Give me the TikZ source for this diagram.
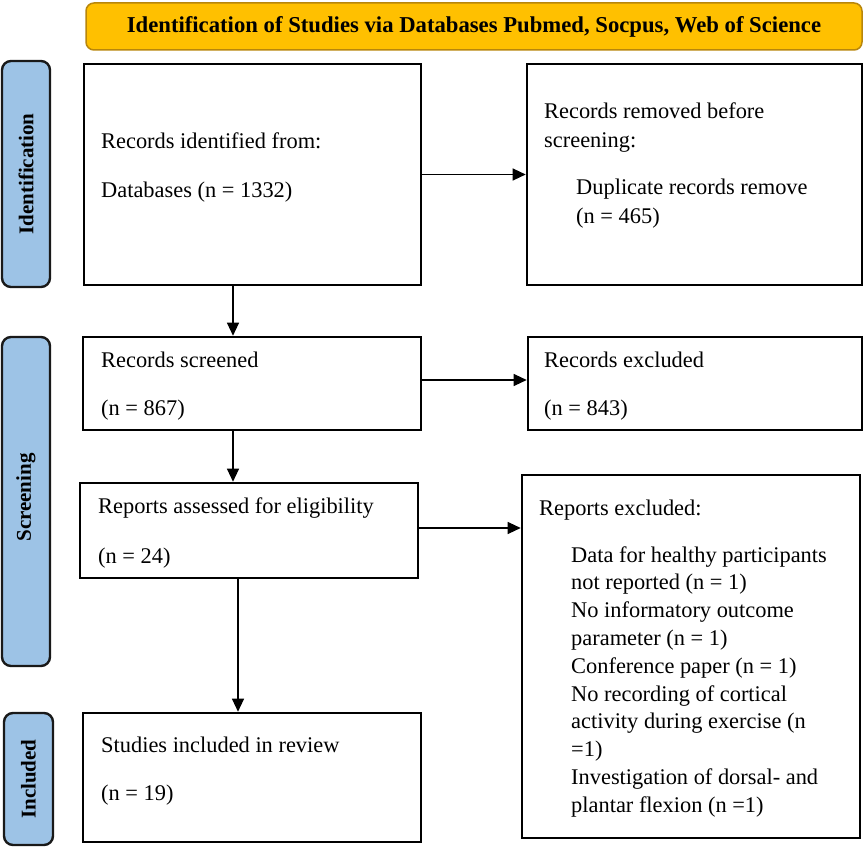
\documentclass[tikz,border=0pt]{standalone}
\usepackage{fontspec}
\setmainfont{Liberation Serif}
\usetikzlibrary{arrows.meta,calc}
\definecolor{bannerfill}{HTML}{FFC000}
\definecolor{bannerline}{HTML}{B8860B}
\definecolor{sideblue}{HTML}{9DC3E6}
\tikzset{
  box/.style={draw=black, line width=2.6pt, fill=white, inner sep=0pt, minimum width=#1},
  side/.style={draw=black!90, line width=2.4pt, fill=sideblue, rounded corners=9pt, inner sep=0pt},
  sidetxt/.style={font=\fontsize{21}{24}\selectfont\bfseries, rotate=90, inner sep=0pt},
  txt/.style={font=\fontsize{22.4}{27}\selectfont, anchor=base west, inner sep=0pt},
  arr/.style={line width=1.2pt, -{Triangle[length=13pt,width=12pt]}},
}
\begin{document}
\begin{tikzpicture}[x=1pt,y=-1pt]
\useasboundingbox (0,0) rectangle (867,853);

% banner
\node[draw=bannerline, line width=1.5pt, fill=bannerfill, rounded corners=8pt,
      minimum width=776pt, minimum height=47pt, inner sep=0pt,
      font=\fontsize{22.7}{26}\selectfont\bfseries] (title) at (474,26.5)
      {Identification of Studies via Databases Pubmed, Socpus, Web of Science};

% side bars
\node[side, minimum width=48pt, minimum height=226pt] (sid) at (26,174) {};
\node[sidetxt] (sidt) at (sid.center) {Identification};
\node[side, minimum width=48pt, minimum height=329pt] (ssc) at (26,501.5) {};
\node[sidetxt] (ssct) at ($(ssc.center)+(0,-4)$) {Screening};
\node[side, minimum width=49pt, minimum height=132pt] (sin) at (28.5,779) {};
\node[sidetxt] (sint) at (sin.center) {Included};

% boxes
\node[box=337pt, minimum height=221pt] (A) at (252.5,174.5) {};
\node[box=335pt, minimum height=221pt] (B) at (694.5,174.5) {};
\node[box=338pt, minimum height=93pt] (C) at (252,383.5) {};
\node[box=334pt, minimum height=93pt] (D) at (695,383.5) {};
\node[box=338pt, minimum height=95pt] (E) at (249,530.5) {};
\node[box=338pt, minimum height=363pt] (F) at (691,656.5) {};
\node[box=338pt, minimum height=129pt] (G) at (252,777.5) {};

% texts
\node[txt] (A1) at (101,149) {Records identified from:};
\node[txt] (A2) at (101,197) {Databases (n = 1332)};

\node[txt] (B1) at (544,119) {Records removed before};
\node[txt] (B2) at (544,148) {screening:};
\node[txt] (B3) at (576,195) {Duplicate records remove};
\node[txt] (B4) at (576,223) {(n = 465)};

\node[txt] (C1) at (101,367) {Records screened};
\node[txt] (C2) at (101,415) {(n = 867)};

\node[txt] (D1) at (544,367) {Records excluded};
\node[txt] (D2) at (544,415) {(n = 843)};

\node[txt] (E1) at (98,513) {Reports assessed for eligibility};
\node[txt] (E2) at (98,563) {(n = 24)};

\node[txt] (F0) at (539,515) {Reports excluded:};
\node[txt] (F1) at (571,562) {Data for healthy participants};
\node[txt] (F2) at (571,589.5) {not reported (n = 1)};
\node[txt] (F3) at (571,617) {No informatory outcome};
\node[txt] (F4) at (571,645) {parameter (n = 1)};
\node[txt] (F5) at (571,673) {Conference paper (n = 1)};
\node[txt] (F6) at (571,701) {No recording of cortical};
\node[txt] (F7) at (571,728.5) {activity during exercise (n};
\node[txt] (F8) at (571,756) {=1)};
\node[txt] (F9) at (571,784) {Investigation of dorsal- and};
\node[txt] (F10) at (571,812) {plantar flexion (n =1)};

\node[txt] (G1) at (101,752) {Studies included in review};
\node[txt] (G2) at (101,800) {(n = 19)};

% connector guides
\coordinate (xac) at (233,0);
\coordinate (xeg) at (238,0);
\coordinate (ycd) at (0,380);
\coordinate (yef) at (0,528);

% connectors
\draw[arr] (A.east) -- (B.west);
\draw[arr] (A.south -| xac) -- (C.north -| xac);
\draw[arr] (C.east |- ycd) -- (D.west |- ycd);
\draw[arr] (C.south -| xac) -- (E.north -| xac);
\draw[arr] (E.east |- yef) -- (F.west |- yef);
\draw[arr] (E.south -| xeg) -- (G.north -| xeg);
\end{tikzpicture}
\end{document}
